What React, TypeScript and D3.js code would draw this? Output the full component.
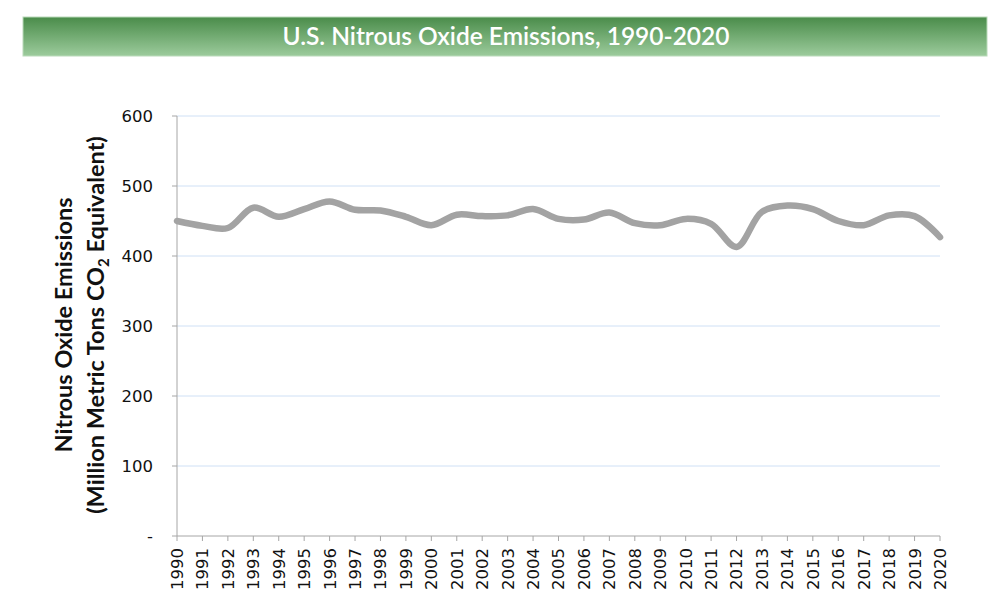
import React from "react";
import * as d3 from "d3";

const years: number[] = d3.range(1990, 2021);
const emissions: number[] = [
  450, 443, 440, 469, 456, 467, 478, 466, 465, 456,
  444, 459, 457, 458, 467, 453, 452, 462, 447, 444,
  453, 446, 413, 463, 472, 467, 450, 444, 458, 457, 427,
];
const yTicks: number[] = [0, 100, 200, 300, 400, 500, 600];

const W = 1005;
const H = 607;
const left = 177;
const right = 940;
const top = 116;
const bottom = 536;
const font = "Lato, 'Open Sans', sans-serif";
const tickFont = "'DejaVu Sans', sans-serif";

export default function App() {
  const x = d3.scaleLinear().domain([1990, 2020]).range([left, right]);
  const y = d3.scaleLinear().domain([0, 600]).range([bottom, top]);
  const line = d3
    .line<number>()
    .x((_, i) => x(years[i]))
    .y((d) => y(d))
    .curve(d3.curveCatmullRom.alpha(0.5));

  return (
    <svg width={W} height={H} style={{ position: "absolute", left: 0, top: 0 }}>
      <defs>
        <linearGradient id="tb" x1="0" y1="0" x2="0" y2="1">
          <stop offset="0" stopColor="#4a8c4a" />
          <stop offset="1" stopColor="#9ccb9c" />
        </linearGradient>
      </defs>
      <rect x={0} y={0} width={W} height={H} fill="#fff" />
      <rect x={23} y={17} width={964} height={39} fill="url(#tb)" stroke="#b9dab9" strokeWidth={1} />
      <text x={506} y={45} textAnchor="middle" fill="#fff" fontFamily={font} fontSize={24.5} fontWeight={600}>
        U.S. Nitrous Oxide Emissions, 1990-2020
      </text>

      {yTicks.filter((t) => t > 0).map((t) => (
        <line key={"g" + t} x1={left} x2={right} y1={y(t)} y2={y(t)} stroke="#cfe0f5" strokeWidth={1} />
      ))}

      <line x1={left} x2={left} y1={top} y2={bottom} stroke="#a6a6a6" strokeWidth={1} />
      <line x1={left} x2={right} y1={bottom} y2={bottom} stroke="#a6a6a6" strokeWidth={1} />
      {yTicks.map((t) => (
        <g key={"y" + t}>
          <line x1={left - 5} x2={left} y1={y(t)} y2={y(t)} stroke="#a6a6a6" />
          <text x={153} y={y(t)} dy="0.36em" textAnchor="end" fontFamily={tickFont} fontSize={16.5} fill="#111">
            {t === 0 ? "-" : String(t)}
          </text>
        </g>
      ))}
      {years.map((yr) => (
        <g key={"x" + yr}>
          <line x1={x(yr)} x2={x(yr)} y1={bottom} y2={bottom + 5} stroke="#a6a6a6" />
          <text
            transform={`translate(${x(yr)},${bottom + 12}) rotate(-90)`}
            dy="0.36em"
            textAnchor="end"
            fontFamily={tickFont}
            fontSize={16.5}
            fill="#111"
          >
            {yr}
          </text>
        </g>
      ))}

      <path d={line(emissions) || ""} fill="none" stroke="#a3a3a3" strokeWidth={6.5} strokeLinecap="round" strokeLinejoin="round" />

      <g transform="translate(72,325) rotate(-90)">
        <text x={0} y={0} textAnchor="middle" fontFamily={font} fontSize={23.5} fontWeight={700} fill="#111">
          Nitrous Oxide Emissions
        </text>
        <text x={0} y={32} textAnchor="middle" fontFamily={font} fontSize={23.5} fontWeight={700} fill="#111">
          (Million Metric Tons CO<tspan fontSize={15} dy={5}>2</tspan>
          <tspan dy={-5}> Equivalent)</tspan>
        </text>
      </g>
    </svg>
  );
}
